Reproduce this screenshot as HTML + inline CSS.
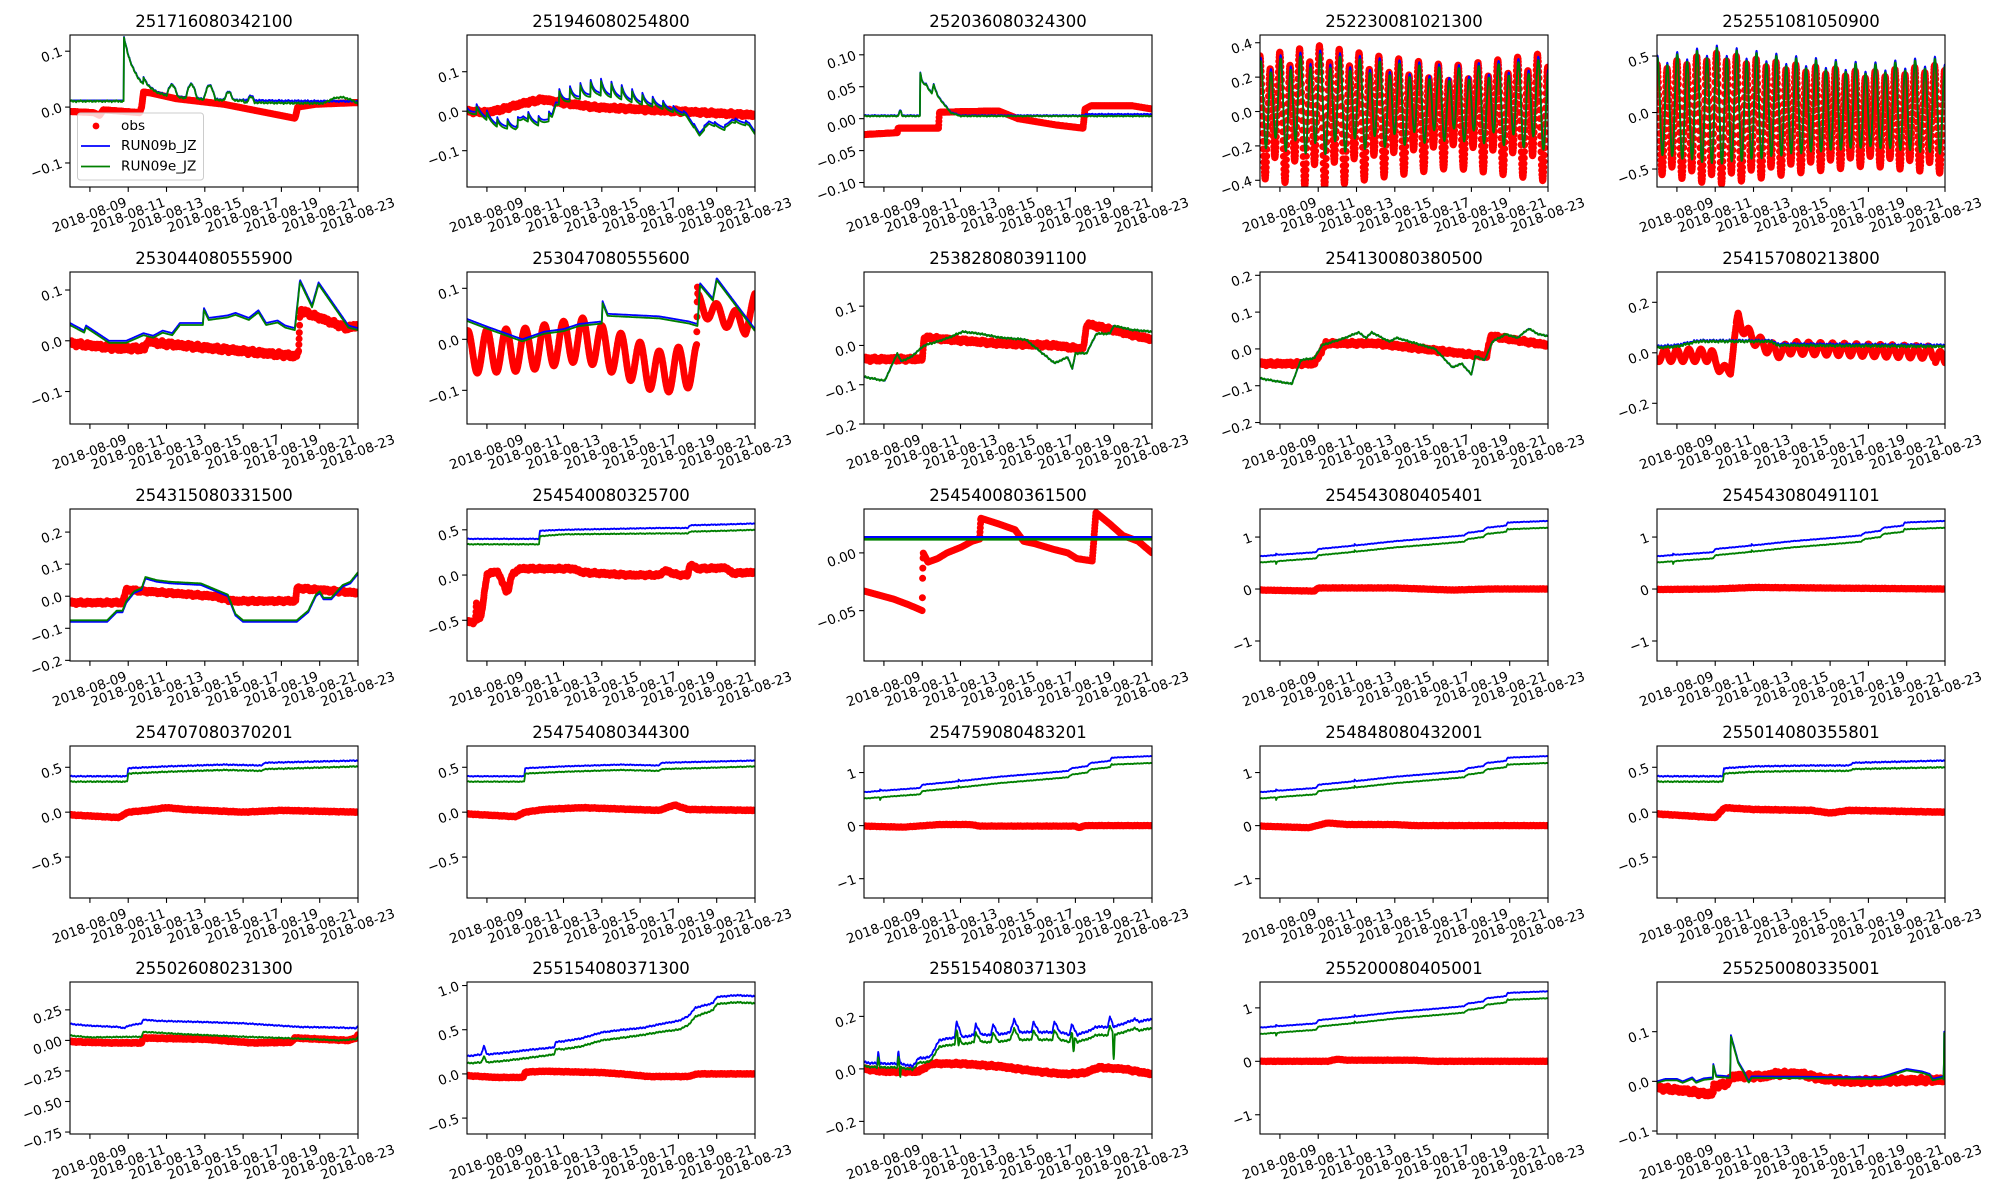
<!DOCTYPE html>
<html><head><meta charset="utf-8">
<style>
html,body{margin:0;padding:0;background:#fff;}
svg{display:block;font-family:"DejaVu Sans","Liberation Sans",sans-serif;}
.ti{font-size:16.5px;text-anchor:middle;}
.yl,.xl{font-size:13.4px;}
.lg{font-size:13.6px;}
</style></head><body>
<svg id="s" width="2000" height="1200" viewBox="0 0 2000 1200" xmlns="http://www.w3.org/2000/svg">
<rect width="2000" height="1200" fill="#fff"/>
<g id="p0"><text class="ti">251716080342100</text><text class="yl">0.1</text><text class="yl">0.0</text><text class="yl">−0.1</text><text class="xl">2018-08-09</text><text class="xl">2018-08-11</text><text class="xl">2018-08-13</text><text class="xl">2018-08-15</text><text class="xl">2018-08-17</text><text class="xl">2018-08-19</text><text class="xl">2018-08-21</text><text class="xl">2018-08-23</text></g>
<g id="p1"><text class="ti">251946080254800</text><text class="yl">0.1</text><text class="yl">0.0</text><text class="yl">−0.1</text><text class="xl">2018-08-09</text><text class="xl">2018-08-11</text><text class="xl">2018-08-13</text><text class="xl">2018-08-15</text><text class="xl">2018-08-17</text><text class="xl">2018-08-19</text><text class="xl">2018-08-21</text><text class="xl">2018-08-23</text></g>
<g id="p2"><text class="ti">252036080324300</text><text class="yl">0.10</text><text class="yl">0.05</text><text class="yl">0.00</text><text class="yl">−0.05</text><text class="yl">−0.10</text><text class="xl">2018-08-09</text><text class="xl">2018-08-11</text><text class="xl">2018-08-13</text><text class="xl">2018-08-15</text><text class="xl">2018-08-17</text><text class="xl">2018-08-19</text><text class="xl">2018-08-21</text><text class="xl">2018-08-23</text></g>
<g id="p3"><text class="ti">252230081021300</text><text class="yl">0.4</text><text class="yl">0.2</text><text class="yl">0.0</text><text class="yl">−0.2</text><text class="yl">−0.4</text><text class="xl">2018-08-09</text><text class="xl">2018-08-11</text><text class="xl">2018-08-13</text><text class="xl">2018-08-15</text><text class="xl">2018-08-17</text><text class="xl">2018-08-19</text><text class="xl">2018-08-21</text><text class="xl">2018-08-23</text></g>
<g id="p4"><text class="ti">252551081050900</text><text class="yl">0.5</text><text class="yl">0.0</text><text class="yl">−0.5</text><text class="xl">2018-08-09</text><text class="xl">2018-08-11</text><text class="xl">2018-08-13</text><text class="xl">2018-08-15</text><text class="xl">2018-08-17</text><text class="xl">2018-08-19</text><text class="xl">2018-08-21</text><text class="xl">2018-08-23</text></g>
<g id="p5"><text class="ti">253044080555900</text><text class="yl">0.1</text><text class="yl">0.0</text><text class="yl">−0.1</text><text class="xl">2018-08-09</text><text class="xl">2018-08-11</text><text class="xl">2018-08-13</text><text class="xl">2018-08-15</text><text class="xl">2018-08-17</text><text class="xl">2018-08-19</text><text class="xl">2018-08-21</text><text class="xl">2018-08-23</text></g>
<g id="p6"><text class="ti">253047080555600</text><text class="yl">0.1</text><text class="yl">0.0</text><text class="yl">−0.1</text><text class="xl">2018-08-09</text><text class="xl">2018-08-11</text><text class="xl">2018-08-13</text><text class="xl">2018-08-15</text><text class="xl">2018-08-17</text><text class="xl">2018-08-19</text><text class="xl">2018-08-21</text><text class="xl">2018-08-23</text></g>
<g id="p7"><text class="ti">253828080391100</text><text class="yl">0.1</text><text class="yl">0.0</text><text class="yl">−0.1</text><text class="yl">−0.2</text><text class="xl">2018-08-09</text><text class="xl">2018-08-11</text><text class="xl">2018-08-13</text><text class="xl">2018-08-15</text><text class="xl">2018-08-17</text><text class="xl">2018-08-19</text><text class="xl">2018-08-21</text><text class="xl">2018-08-23</text></g>
<g id="p8"><text class="ti">254130080380500</text><text class="yl">0.2</text><text class="yl">0.1</text><text class="yl">0.0</text><text class="yl">−0.1</text><text class="yl">−0.2</text><text class="xl">2018-08-09</text><text class="xl">2018-08-11</text><text class="xl">2018-08-13</text><text class="xl">2018-08-15</text><text class="xl">2018-08-17</text><text class="xl">2018-08-19</text><text class="xl">2018-08-21</text><text class="xl">2018-08-23</text></g>
<g id="p9"><text class="ti">254157080213800</text><text class="yl">0.2</text><text class="yl">0.0</text><text class="yl">−0.2</text><text class="xl">2018-08-09</text><text class="xl">2018-08-11</text><text class="xl">2018-08-13</text><text class="xl">2018-08-15</text><text class="xl">2018-08-17</text><text class="xl">2018-08-19</text><text class="xl">2018-08-21</text><text class="xl">2018-08-23</text></g>
<g id="p10"><text class="ti">254315080331500</text><text class="yl">0.2</text><text class="yl">0.1</text><text class="yl">0.0</text><text class="yl">−0.1</text><text class="yl">−0.2</text><text class="xl">2018-08-09</text><text class="xl">2018-08-11</text><text class="xl">2018-08-13</text><text class="xl">2018-08-15</text><text class="xl">2018-08-17</text><text class="xl">2018-08-19</text><text class="xl">2018-08-21</text><text class="xl">2018-08-23</text></g>
<g id="p11"><text class="ti">254540080325700</text><text class="yl">0.5</text><text class="yl">0.0</text><text class="yl">−0.5</text><text class="xl">2018-08-09</text><text class="xl">2018-08-11</text><text class="xl">2018-08-13</text><text class="xl">2018-08-15</text><text class="xl">2018-08-17</text><text class="xl">2018-08-19</text><text class="xl">2018-08-21</text><text class="xl">2018-08-23</text></g>
<g id="p12"><text class="ti">254540080361500</text><text class="yl">0.00</text><text class="yl">−0.05</text><text class="xl">2018-08-09</text><text class="xl">2018-08-11</text><text class="xl">2018-08-13</text><text class="xl">2018-08-15</text><text class="xl">2018-08-17</text><text class="xl">2018-08-19</text><text class="xl">2018-08-21</text><text class="xl">2018-08-23</text></g>
<g id="p13"><text class="ti">254543080405401</text><text class="yl">1</text><text class="yl">0</text><text class="yl">−1</text><text class="xl">2018-08-09</text><text class="xl">2018-08-11</text><text class="xl">2018-08-13</text><text class="xl">2018-08-15</text><text class="xl">2018-08-17</text><text class="xl">2018-08-19</text><text class="xl">2018-08-21</text><text class="xl">2018-08-23</text></g>
<g id="p14"><text class="ti">254543080491101</text><text class="yl">1</text><text class="yl">0</text><text class="yl">−1</text><text class="xl">2018-08-09</text><text class="xl">2018-08-11</text><text class="xl">2018-08-13</text><text class="xl">2018-08-15</text><text class="xl">2018-08-17</text><text class="xl">2018-08-19</text><text class="xl">2018-08-21</text><text class="xl">2018-08-23</text></g>
<g id="p15"><text class="ti">254707080370201</text><text class="yl">0.5</text><text class="yl">0.0</text><text class="yl">−0.5</text><text class="xl">2018-08-09</text><text class="xl">2018-08-11</text><text class="xl">2018-08-13</text><text class="xl">2018-08-15</text><text class="xl">2018-08-17</text><text class="xl">2018-08-19</text><text class="xl">2018-08-21</text><text class="xl">2018-08-23</text></g>
<g id="p16"><text class="ti">254754080344300</text><text class="yl">0.5</text><text class="yl">0.0</text><text class="yl">−0.5</text><text class="xl">2018-08-09</text><text class="xl">2018-08-11</text><text class="xl">2018-08-13</text><text class="xl">2018-08-15</text><text class="xl">2018-08-17</text><text class="xl">2018-08-19</text><text class="xl">2018-08-21</text><text class="xl">2018-08-23</text></g>
<g id="p17"><text class="ti">254759080483201</text><text class="yl">1</text><text class="yl">0</text><text class="yl">−1</text><text class="xl">2018-08-09</text><text class="xl">2018-08-11</text><text class="xl">2018-08-13</text><text class="xl">2018-08-15</text><text class="xl">2018-08-17</text><text class="xl">2018-08-19</text><text class="xl">2018-08-21</text><text class="xl">2018-08-23</text></g>
<g id="p18"><text class="ti">254848080432001</text><text class="yl">1</text><text class="yl">0</text><text class="yl">−1</text><text class="xl">2018-08-09</text><text class="xl">2018-08-11</text><text class="xl">2018-08-13</text><text class="xl">2018-08-15</text><text class="xl">2018-08-17</text><text class="xl">2018-08-19</text><text class="xl">2018-08-21</text><text class="xl">2018-08-23</text></g>
<g id="p19"><text class="ti">255014080355801</text><text class="yl">0.5</text><text class="yl">0.0</text><text class="yl">−0.5</text><text class="xl">2018-08-09</text><text class="xl">2018-08-11</text><text class="xl">2018-08-13</text><text class="xl">2018-08-15</text><text class="xl">2018-08-17</text><text class="xl">2018-08-19</text><text class="xl">2018-08-21</text><text class="xl">2018-08-23</text></g>
<g id="p20"><text class="ti">255026080231300</text><text class="yl">0.25</text><text class="yl">0.00</text><text class="yl">−0.25</text><text class="yl">−0.50</text><text class="yl">−0.75</text><text class="xl">2018-08-09</text><text class="xl">2018-08-11</text><text class="xl">2018-08-13</text><text class="xl">2018-08-15</text><text class="xl">2018-08-17</text><text class="xl">2018-08-19</text><text class="xl">2018-08-21</text><text class="xl">2018-08-23</text></g>
<g id="p21"><text class="ti">255154080371300</text><text class="yl">1.0</text><text class="yl">0.5</text><text class="yl">0.0</text><text class="yl">−0.5</text><text class="xl">2018-08-09</text><text class="xl">2018-08-11</text><text class="xl">2018-08-13</text><text class="xl">2018-08-15</text><text class="xl">2018-08-17</text><text class="xl">2018-08-19</text><text class="xl">2018-08-21</text><text class="xl">2018-08-23</text></g>
<g id="p22"><text class="ti">255154080371303</text><text class="yl">0.2</text><text class="yl">0.0</text><text class="yl">−0.2</text><text class="xl">2018-08-09</text><text class="xl">2018-08-11</text><text class="xl">2018-08-13</text><text class="xl">2018-08-15</text><text class="xl">2018-08-17</text><text class="xl">2018-08-19</text><text class="xl">2018-08-21</text><text class="xl">2018-08-23</text></g>
<g id="p23"><text class="ti">255200080405001</text><text class="yl">1</text><text class="yl">0</text><text class="yl">−1</text><text class="xl">2018-08-09</text><text class="xl">2018-08-11</text><text class="xl">2018-08-13</text><text class="xl">2018-08-15</text><text class="xl">2018-08-17</text><text class="xl">2018-08-19</text><text class="xl">2018-08-21</text><text class="xl">2018-08-23</text></g>
<g id="p24"><text class="ti">255250080335001</text><text class="yl">0.1</text><text class="yl">0.0</text><text class="yl">−0.1</text><text class="xl">2018-08-09</text><text class="xl">2018-08-11</text><text class="xl">2018-08-13</text><text class="xl">2018-08-15</text><text class="xl">2018-08-17</text><text class="xl">2018-08-19</text><text class="xl">2018-08-21</text><text class="xl">2018-08-23</text></g>
<g id="legend">
<rect x="77.5" y="113" width="126" height="67" rx="3" fill="#fff" fill-opacity="0.8" stroke="#cccccc" stroke-width="1"/>
<circle cx="96" cy="126" r="3.4" fill="#ff0000"/>
<text class="lg" x="121" y="126" dominant-baseline="central">obs</text>
<line x1="81" y1="146" x2="110" y2="146" stroke="#0000ff" stroke-width="1.8"/>
<text class="lg" x="121" y="146" dominant-baseline="central">RUN09b_JZ</text>
<line x1="81" y1="166.5" x2="110" y2="166.5" stroke="#008000" stroke-width="1.8"/>
<text class="lg" x="121" y="166.5" dominant-baseline="central">RUN09e_JZ</text>
</g>
</svg>
<script>
(function(){
var NS="http://www.w3.org/2000/svg";
var LX=[70,467,864,1260,1657],TY=[35,272,509,746,982],W=288,H=152,T0=-1.04,T1=14;
function pw(a){return function(t){if(t<=a[0][0])return a[0][1];for(var i=1;i<a.length;i++){if(t<=a[i][0]){var p=a[i-1],q=a[i];return p[1]+(q[1]-p[1])*(t-p[0])/(q[0]-p[0]);}}return a[a.length-1][1];};}
function sp(t,t0,h,d){return t>=t0?h*Math.exp(-(t-t0)/d):0;}
function hm(t,c,h,w){return Math.abs(t-c)<w/2?h*Math.cos(Math.PI*(t-c)/w):0;}
function nz(t,a){return a*(Math.sin(t*37.1)+0.6*Math.sin(t*91.7+1)+0.5*Math.sin(t*13.3+2))/2.1;}
function st(t,p){return (((t%p)+p)%p)/p;}
var PI2=Math.PI*2;
var rise=pw([[-1.04,0.63],[0,0.66],[1.9,0.71],[2.0,0.77],[4,0.84],[6,0.92],[8,0.98],[9.6,1.03],[9.8,1.08],[10.6,1.12],[10.8,1.18],[11.8,1.22],[11.9,1.28],[14,1.31]]);
function riseB(t){return rise(t)+nz(t,0.008)+sp(t,-0.2,0.03,0.05)+sp(t,3.9,0.03,0.05);}
function riseG(t){return rise(t)-0.12-0.01*(t>11.9?1:0)+nz(t,0.008)-sp(t,-0.2,0.05,0.05)+sp(t,3.9,0.03,0.05);}
function flatObs(a){var f=pw(a);return function(t){return f(t)+nz(t,0.006);};}
var step5b=pw([[-1.04,0.4],[1.95,0.4],[2.0,0.49],[4,0.51],[7,0.53],[9,0.52],[9.1,0.55],[11,0.56],[14,0.575]]);
var step5g=pw([[-1.04,0.34],[1.95,0.34],[2.0,0.43],[4,0.45],[7,0.47],[9,0.46],[9.1,0.48],[11,0.49],[14,0.51]]);
var A3=pw([[-1.04,0.3],[2,0.36],[5,0.3],[9,0.24],[13,0.3],[14,0.32]]);
var A4=pw([[-1.04,0.45],[2,0.55],[6,0.45],[10,0.38],[14,0.45]]);
var b1base=pw([[-1.04,0.0],[-0.5,0.005],[0.6,-0.03],[1.5,-0.035],[1.9,-0.01],[2.7,-0.025],[3.4,-0.01],[3.6,0.03],[4.5,0.045],[5.8,0.06],[6.8,0.05],[7.8,0.035],[9,0.02],[10.4,-0.005],[11.1,-0.055],[11.6,-0.025],[12.4,-0.04],[12.8,-0.02],[13.7,-0.03],[14,-0.05]]);
var b1amp=pw([[-1.04,0.02],[3.4,0.02],[3.6,0.035],[5.8,0.045],[8,0.03],[9.5,0.015],[10.4,0.005],[14,0.008]]);
var P=[
{y:[-0.143,0.129],
 b:function(t){return t<1.78?0.012:0.01+0.095*Math.exp(-(t-1.78)/0.6)+0.02*Math.exp(-(t-1.78)/3)+sp(t,2.8,0.012,0.3)+hm(t,4.3,0.02,0.6)+hm(t,5.3,0.025,0.6)+hm(t,6.25,0.025,0.6)+hm(t,7.25,0.015,0.45)+hm(t,8.4,0.008,0.4)+nz(t,0.002);},
 g:function(t){return (t<1.78?0.0105:0.009+0.095*Math.exp(-(t-1.78)/0.6)+0.02*Math.exp(-(t-1.78)/3)+sp(t,2.8,0.012,0.3)+hm(t,4.3,0.02,0.6)+hm(t,5.3,0.025,0.6)+hm(t,6.25,0.025,0.6)+hm(t,7.25,0.015,0.45)+hm(t,8.4,0.01,0.4))+hm(t,13.1,0.011,1.8)+nz(t,0.002)-(t>8?0.003:0);},
 o:pw([[-1.04,-0.008],[0.2,-0.01],[0.5,-0.015],[0.7,-0.005],[2.6,-0.01],[2.7,0.0],[2.8,0.027],[3.2,0.025],[4.5,0.015],[7,0.005],[10.7,-0.02],[10.75,-0.015],[10.85,0.0],[11.8,0.005],[14,0.008]])},
{y:[-0.192,0.193],
 b:function(t){return b1base(t)+b1amp(t)*(Math.exp(-3*st(t,0.54))-0.35);},
 g:function(t){return b1base(t)-0.006+b1amp(t)*(Math.exp(-3*st(t,0.54))-0.35);},
 o:flatObs([[-1.04,0.0],[0,-0.003],[0.8,0.005],[1.9,0.02],[2.9,0.03],[4.1,0.02],[5.7,0.01],[7.8,0.005],[9.9,0.0],[14,-0.01]])},
{y:[-0.107,0.131],
 b:function(t){var v=0.005+hm(t,0.85,0.008,0.2);if(t>=1.9)v+=0.067*Math.exp(-(t-1.9)/0.25)+pw([[1.9,0],[2.2,0.03],[2.5,0.03],[2.6,0.045],[2.8,0.03],[3.5,0.005],[4,0]])(t);return v+(t>10.5?0.002:0)+nz(t,0.001);},
 g:function(t){var v=0.004+hm(t,0.85,0.008,0.2);if(t>=1.9)v+=0.067*Math.exp(-(t-1.9)/0.25)+pw([[1.9,0],[2.2,0.03],[2.5,0.03],[2.6,0.045],[2.8,0.03],[3.5,0.005],[4,0]])(t);return v+nz(t,0.001);},
 o:pw([[-1.04,-0.025],[0.7,-0.022],[0.74,-0.015],[2.85,-0.015],[2.9,0.01],[6,0.012],[7,0.0],[9,-0.01],[10.4,-0.015],[10.5,0.015],[10.8,0.02],[13,0.02],[14,0.015]])},
{y:[-0.439,0.445],step:0.01,
 b:function(t){return 0.75*A3(t)*Math.cos(PI2*1.932*t-0.5)+0.05*Math.cos(PI2*0.966*t+0.5)+0.05;},
 g:function(t){return 0.72*A3(t)*Math.cos(PI2*1.932*t-0.5)+0.05*Math.cos(PI2*0.966*t+0.5)+0.04;},
 o:function(t){return A3(t)*Math.cos(PI2*1.932*t)+0.08*Math.cos(PI2*0.966*t+1)-0.02;}},
{y:[-0.659,0.686],step:0.01,
 b:function(t){return 0.92*A4(t)*Math.cos(PI2*1.932*t-0.2)+0.04*Math.cos(PI2*0.966*t)+0.05;},
 g:function(t){return 0.9*A4(t)*Math.cos(PI2*1.932*t-0.2)+0.04*Math.cos(PI2*0.966*t)+0.04;},
 o:function(t){return A4(t)*Math.cos(PI2*1.932*t)+0.05*Math.cos(PI2*0.966*t+1)-0.05;}},
{y:[-0.164,0.1355],
 b:pw([[-1.04,0.035],[-0.3,0.02],[-0.2,0.03],[1.0,0.0],[1.9,0.0],[2.8,0.015],[3.3,0.01],[3.8,0.02],[4.3,0.015],[4.7,0.035],[5.9,0.035],[5.95,0.065],[6.2,0.045],[7.2,0.05],[7.6,0.055],[8.3,0.045],[8.8,0.06],[9.2,0.035],[9.8,0.04],[10.2,0.03],[10.7,0.025],[10.97,0.12],[11.6,0.07],[11.94,0.115],[13.5,0.03],[14,0.025]]),
 g:function(t){return this.b(t)-0.004;},
 o:flatObs([[-1.04,-0.005],[1.5,-0.015],[2.9,-0.015],[3.0,0.0],[3.6,-0.005],[10.7,-0.03],[10.9,-0.025],[10.97,0.06],[13.4,0.025],[14,0.03]])},
{y:[-0.166,0.132],step:0.015,
 b:pw([[-1.04,0.04],[0,0.025],[1.85,0.0],[3,0.015],[4,0.02],[4.8,0.03],[6.0,0.035],[6.04,0.075],[6.3,0.05],[9,0.045],[10.55,0.035],[11.0,0.03],[11.13,0.11],[11.8,0.08],[12.0,0.12],[14,0.02]]),
 g:function(t){return this.b(t)-0.004;},
 o:function(t){var m=pw([[-1.04,-0.025],[2,-0.02],[5,0.0],[7,-0.03],[9,-0.065],[10.95,-0.05],[11.0,0.07],[12,0.05],[13.5,0.03],[14,0.07]])(t);var a=t<11?0.042:0.02;return m+a*Math.cos(PI2*t*1.0);}},
{y:[-0.2,0.187],
 b:pw([[-1.04,-0.08],[0.04,-0.09],[0.7,-0.02],[0.9,-0.04],[1.4,-0.03],[2.1,0.0],[2.8,0.01],[3.4,0.02],[4.1,0.035],[5,0.03],[6.06,0.02],[7.4,0.015],[8.91,-0.045],[9.6,-0.03],[9.84,-0.06],[10.0,-0.02],[10.58,-0.02],[11.1,0.03],[11.8,0.03],[12.0,0.05],[12.5,0.045],[12.9,0.04],[14,0.035]]),
 g:function(t){return this.b(t)+nz(t,0.003);},
 o:flatObs([[-1.04,-0.035],[2.0,-0.035],[2.1,0.02],[6,0.005],[9,0.0],[10.4,-0.01],[10.6,0.055],[14,0.015]])},
{y:[-0.204,0.209],
 b:pw([[-1.04,-0.08],[0.62,-0.095],[1.1,-0.03],[1.8,-0.025],[2.2,0.01],[2.8,0.02],[3.4,0.03],[4.1,0.045],[4.5,0.03],[4.8,0.045],[5.7,0.02],[6.1,0.03],[8.1,0.0],[9.0,-0.05],[9.5,-0.04],[10.0,-0.07],[10.2,-0.02],[10.7,-0.03],[11.1,0.02],[11.8,0.04],[12.4,0.03],[13.0,0.055],[13.5,0.04],[14,0.035]]),
 g:function(t){return this.b(t)+nz(t,0.003);},
 o:flatObs([[-1.04,-0.04],[1.8,-0.04],[2.4,0.015],[5,0.015],[10.8,-0.02],[11.0,0.035],[14,0.01]])},
{y:[-0.282,0.32],step:0.015,
 b:function(t){return pw([[-1.04,0.025],[0,0.03],[1.1,0.048],[4.95,0.048],[5.2,0.035],[14,0.03]])(t)+nz(t,0.006);},
 g:function(t){return pw([[-1.04,0.02],[0,0.025],[1.1,0.045],[4.95,0.045],[5.2,0.03],[14,0.025]])(t)+nz(t,0.006);},
 o:function(t){var m=pw([[-1.04,-0.01],[1.8,-0.01],[2.2,-0.06],[2.8,-0.07],[3.0,0.05],[3.2,0.14],[3.6,0.08],[4.5,0.03],[5.5,0.0],[5.8,0.02],[14,0.0]])(t);var a=(t>2&&t<3.1)?0.015:0.025;return m+a*Math.cos(PI2*t*1.6)-(t>13.5?0.02:0);}},
{y:[-0.202,0.272],
 b:pw([[-1.04,-0.08],[0.9,-0.08],[1.4,-0.05],[1.7,-0.05],[1.9,-0.02],[2.3,0.01],[2.7,0.02],[2.9,0.055],[3.5,0.045],[4.2,0.04],[5.8,0.035],[7.2,0.0],[7.6,-0.06],[8.0,-0.08],[10.8,-0.08],[11.4,-0.05],[11.8,0.0],[12.0,0.01],[12.2,-0.01],[12.6,-0.01],[13.2,0.03],[13.6,0.04],[14,0.07]]),
 g:function(t){return this.b(t)+0.005;},
 o:flatObs([[-1.04,-0.02],[1.7,-0.02],[1.9,0.02],[3,0.015],[6.5,0.0],[7.5,-0.015],[10.75,-0.015],[10.8,0.025],[12,0.02],[14,0.01]])},
{y:[-0.95,0.73],
 b:function(t){return pw([[-1.04,0.4],[2.72,0.4],[2.77,0.49],[4,0.5],[9,0.52],[10.5,0.52],[10.6,0.55],[12.5,0.56],[14,0.57]])(t)+nz(t,0.006);},
 g:function(t){return pw([[-1.04,0.34],[2.72,0.34],[2.77,0.43],[4,0.45],[9,0.46],[10.5,0.46],[10.6,0.48],[12.5,0.49],[14,0.5]])(t)+nz(t,0.006);},
 o:function(t){return pw([[-1.04,-0.52],[-0.6,-0.52],[-0.55,-0.3],[-0.5,-0.5],[-0.3,-0.45],[0.0,0.0],[0.2,0.03],[0.6,0.03],[1.0,-0.18],[1.1,-0.18],[1.3,0.0],[1.7,0.07],[4.5,0.07],[5.0,0.03],[7.4,0.0],[9.0,0.0],[9.3,0.05],[10.0,0.0],[10.5,0.0],[10.6,0.12],[11,0.07],[12.5,0.08],[12.8,0.02],[14,0.03]])(t)+nz(t,0.02);}},
{y:[-0.0936,0.038],
 b:function(t){return 0.0135;},g:function(t){return 0.0118;},lw:2.6,
 o:pw([[-1.04,-0.033],[0.5,-0.04],[1.3,-0.045],[2.0,-0.05],[2.02,-0.022],[2.05,0.0],[2.3,-0.008],[2.8,-0.005],[3.3,0.0],[4.05,0.005],[4.6,0.01],[5.0,0.012],[5.06,0.03],[6,0.025],[6.85,0.02],[7.3,0.01],[7.87,0.008],[8.87,0.003],[9.6,0.0],[10.08,-0.005],[10.88,-0.007],[11.07,0.035],[11.8,0.025],[12.48,0.015],[13.29,0.01],[14,0.0]])},
{y:[-1.385,1.54],b:riseB,g:riseG,o:flatObs([[-1.04,-0.02],[1.8,-0.04],[2,0.02],[6,0.02],[9,-0.02],[11,0.0],[14,0.0]])},
{y:[-1.385,1.54],b:riseB,g:riseG,o:flatObs([[-1.04,-0.01],[2,0.0],[4,0.03],[14,0.0]])},
{y:[-0.956,0.737],
 b:function(t){return step5b(t)+nz(t,0.008);},g:function(t){return step5g(t)+nz(t,0.008);},
 o:flatObs([[-1.04,-0.03],[1.5,-0.06],[2.0,0.0],[3,0.02],[4,0.05],[5,0.03],[8,0.0],[10,0.02],[14,0.0]])},
{y:[-0.956,0.737],
 b:function(t){return step5b(t)+nz(t,0.006);},g:function(t){return step5g(t)+nz(t,0.006);},
 o:flatObs([[-1.04,-0.02],[1.5,-0.05],[2.0,0.0],[3,0.03],[5,0.05],[9,0.02],[9.8,0.08],[10.5,0.03],[14,0.02]])},
{y:[-1.364,1.5],b:riseB,g:riseG,o:flatObs([[-1.04,-0.01],[1,-0.03],[2.9,0.02],[4.5,0.02],[5,-0.01],[10,-0.01],[10.2,-0.04],[10.5,0.0],[14,0.0]])},
{y:[-1.364,1.5],b:riseB,g:riseG,o:flatObs([[-1.04,-0.01],[1.5,-0.04],[2.5,0.05],[3.5,0.02],[6,0.02],[7,0.0],[14,0.0]])},
{y:[-0.956,0.737],
 b:function(t){return pw([[-1.04,0.4],[2.4,0.4],[2.46,0.49],[4,0.51],[7,0.52],[9,0.52],[9.2,0.55],[14,0.575]])(t)+nz(t,0.008);},
 g:function(t){return pw([[-1.04,0.34],[2.4,0.34],[2.46,0.43],[4,0.45],[7,0.46],[9,0.46],[9.2,0.48],[14,0.5]])(t)+nz(t,0.008);},
 o:flatObs([[-1.04,-0.02],[2.0,-0.06],[2.5,0.05],[4,0.03],[7,0.02],[8,-0.01],[9,0.02],[14,0.0]])},
{y:[-0.766,0.478],
 b:function(t){return pw([[-1.04,0.135],[0,0.12],[1.5,0.11],[1.8,0.1],[2.0,0.12],[2.7,0.14],[2.8,0.17],[3.5,0.16],[6,0.15],[8,0.14],[10,0.12],[11,0.11],[13,0.105],[13.9,0.1],[14,0.12]])(t)+nz(t,0.006);},
 g:function(t){return pw([[-1.04,0.04],[0,0.025],[2.7,0.03],[2.8,0.07],[5,0.05],[8,0.03],[10,0.02],[13,0.0],[13.9,0.01],[14,0.03]])(t)+nz(t,0.006);},
 o:flatObs([[-1.04,-0.01],[1,-0.02],[2.7,-0.02],[2.8,0.02],[6,0.01],[8.5,-0.02],[10.5,-0.015],[10.7,0.02],[12,0.01],[13.5,0.0],[13.9,0.02],[14,0.05]])},
{y:[-0.68,1.04],
 b:function(t){return pw([[-1.04,0.2],[-0.3,0.22],[-0.16,0.32],[0.0,0.22],[1.0,0.24],[2.1,0.27],[3.5,0.3],[3.6,0.36],[4.0,0.37],[4.9,0.4],[6.0,0.47],[7.1,0.5],[8.1,0.52],[9.2,0.57],[10,0.6],[10.5,0.65],[10.9,0.75],[11.8,0.8],[12,0.87],[13,0.89],[14,0.88]])(t)+nz(t,0.01);},
 g:function(t){return pw([[-1.04,0.12],[-0.3,0.13],[-0.16,0.2],[0.0,0.13],[1.0,0.15],[2.1,0.18],[3.5,0.22],[3.6,0.28],[4.0,0.28],[4.9,0.31],[6.0,0.38],[7.1,0.41],[8.1,0.44],[9.2,0.48],[10,0.5],[10.5,0.55],[10.9,0.65],[11.8,0.72],[12,0.79],[13,0.81],[14,0.8]])(t)+nz(t,0.01);},
 o:flatObs([[-1.04,-0.02],[0.5,-0.04],[1.9,-0.04],[2.0,0.02],[3,0.03],[6,0.015],[7,0.0],[8.5,-0.03],[10.5,-0.03],[11,0.0],[14,0.0]])},
{y:[-0.248,0.331],
 b:function(t){return pw([[-1.04,0.025],[-0.35,0.02],[-0.3,0.065],[-0.2,0.02],[0.7,0.02],[0.75,0.07],[0.85,0.02],[1.5,0.01],[1.8,0.04],[2.4,0.045],[2.9,0.11],[3.7,0.12],[3.8,0.18],[4.1,0.12],[4.7,0.13],[4.8,0.17],[5.1,0.13],[5.6,0.13],[5.7,0.17],[6.0,0.13],[6.6,0.14],[6.8,0.19],[7.1,0.14],[7.7,0.14],[7.8,0.18],[8.1,0.14],[8.8,0.14],[8.9,0.18],[9.2,0.14],[9.7,0.13],[9.8,0.17],[10.1,0.13],[10.9,0.15],[11.0,0.16],[11.7,0.16],[11.8,0.2],[12.0,0.16],[12.8,0.18],[13.1,0.19],[13.3,0.18],[14,0.19]])(t)+nz(t,0.005);},
 g:function(t){var v=0.88*this.b(t)-0.012;v-=hm(t,9.9,0.06,0.12)+hm(t,12.0,0.09,0.1)+hm(t,3.9,0.04,0.1)+hm(t,0.85,0.04,0.08);return v;},
 o:flatObs([[-1.04,0.0],[0,-0.01],[1.8,-0.01],[2.5,0.02],[4,0.02],[6,0.01],[8,-0.01],[9.5,-0.02],[10.5,-0.015],[11.2,0.005],[12.5,0.0],[14,-0.02]])},
{y:[-1.36,1.484],b:riseB,g:riseG,o:flatObs([[-1.04,0.0],[2.5,0.0],[3,0.04],[3.5,0.02],[7,0.02],[8,0.0],[14,0.0]])},
{y:[-0.106,0.2],
 b:pw([[-1.04,0.0],[-0.6,0.005],[0.0,0.005],[0.3,0.0],[0.8,0.008],[1.0,0.0],[1.4,0.006],[1.88,0.008],[1.9,0.035],[2.05,0.012],[2.78,0.01],[2.82,0.093],[3.2,0.04],[3.5,0.02],[3.75,0.0],[3.9,0.01],[10.6,0.008],[11.2,0.015],[12.0,0.025],[12.8,0.02],[13.2,0.015],[13.35,0.005],[13.9,0.01],[13.93,0.005],[13.96,0.1],[14,0.1]]),
 g:function(t){return this.b(t)-0.003;},
 o:flatObs([[-1.04,-0.013],[0.7,-0.02],[1.4,-0.025],[1.9,-0.025],[1.92,-0.01],[2.6,-0.005],[2.9,0.01],[4.7,0.01],[5.0,0.015],[6.5,0.015],[7.0,0.01],[7.6,0.005],[9.1,0.0],[14,0.003]])}
];
for(var i=0;i<25;i++){
 var c=P[i],L=LX[i%5],T=TY[Math.floor(i/5)],g=document.getElementById('p'+i);
 var y0=c.y[0],y1=c.y[1];
 var X=(function(L){return function(t){return L+(t-T0)/(T1-T0)*W;};})(L);
 var Y=(function(T,y0,y1){return function(v){return T+H-(v-y0)/(y1-y0)*H;};})(T,y0,y1);
 var cp=document.createElementNS(NS,'clipPath');cp.setAttribute('id','c'+i);
 var cr=document.createElementNS(NS,'rect');cr.setAttribute('x',L);cr.setAttribute('y',T);cr.setAttribute('width',W);cr.setAttribute('height',H);cp.appendChild(cr);g.appendChild(cp);
 var dg=document.createElementNS(NS,'g');dg.setAttribute('clip-path','url(#c'+i+')');
 var stp=c.step||0.02,d='',t;
 for(t=T0;t<=T1+1e-9;t+=0.012){d+='M'+X(t).toFixed(1)+' '+Y(c.o(t)).toFixed(1)+'h0';}
 var po=document.createElementNS(NS,'path');po.setAttribute('d',d);po.setAttribute('stroke','#ff0000');po.setAttribute('stroke-width','7');po.setAttribute('stroke-linecap','round');po.setAttribute('fill','none');dg.appendChild(po);
 ['b','g'].forEach(function(k){var s='';for(var t=T0;t<=T1+1e-9;t+=stp){s+=(s?'L':'M')+X(t).toFixed(1)+' '+Y(c[k](t)).toFixed(1);}
  var p=document.createElementNS(NS,'path');p.setAttribute('d',s);p.setAttribute('stroke',k=='b'?'#0000ff':'#008000');p.setAttribute('stroke-width',c.lw||'1.8');p.setAttribute('fill','none');p.setAttribute('stroke-linejoin','round');dg.appendChild(p);});
 g.insertBefore(dg,g.firstChild);
 var fr=document.createElementNS(NS,'rect');fr.setAttribute('x',L);fr.setAttribute('y',T);fr.setAttribute('width',W);fr.setAttribute('height',H);fr.setAttribute('fill','none');fr.setAttribute('stroke','#000');fr.setAttribute('stroke-width','1.1');g.appendChild(fr);
 var ti=g.querySelector('.ti');ti.setAttribute('x',L+W/2);ti.setAttribute('y',T-8);
 var yl=g.querySelectorAll('.yl');
 for(var j=0;j<yl.length;j++){var v=parseFloat(yl[j].textContent.replace('\u2212','-'));var yy=Y(v);
  yl[j].setAttribute('x',L-8);yl[j].setAttribute('y',yy+1);yl[j].setAttribute('text-anchor','end');yl[j].setAttribute('dominant-baseline','central');yl[j].setAttribute('transform','rotate(-20 '+(L-8)+' '+(yy+1)+')');
  var tk=document.createElementNS(NS,'line');tk.setAttribute('x1',L-4.9);tk.setAttribute('x2',L);tk.setAttribute('y1',yy);tk.setAttribute('y2',yy);tk.setAttribute('stroke','#000');tk.setAttribute('stroke-width','1.1');g.appendChild(tk);}
 var xl=g.querySelectorAll('.xl');
 for(var j=0;j<xl.length;j++){var xx=X(2*j),yb=T+H+29;
  xl[j].setAttribute('x',xx);xl[j].setAttribute('y',yb);xl[j].setAttribute('text-anchor','middle');xl[j].setAttribute('dominant-baseline','central');xl[j].setAttribute('transform','rotate(-20 '+xx+' '+yb+')');
  var tk=document.createElementNS(NS,'line');tk.setAttribute('x1',xx);tk.setAttribute('x2',xx);tk.setAttribute('y1',T+H);tk.setAttribute('y2',T+H+4.9);tk.setAttribute('stroke','#000');tk.setAttribute('stroke-width','1.1');g.appendChild(tk);}
}
var s=document.getElementById('s');s.appendChild(document.getElementById('legend'));
})();
</script>
</body></html>
